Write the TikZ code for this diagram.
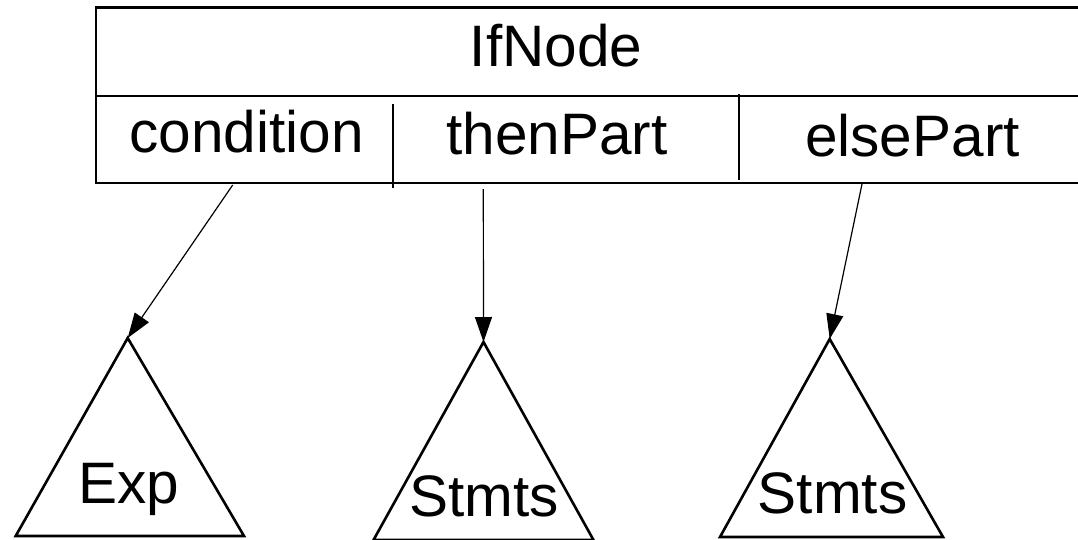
\documentclass[tikz,border=0pt]{standalone}
\usepackage{fontspec}
\setmainfont{Liberation Sans}
\usetikzlibrary{arrows.meta}
\begin{document}
\begin{tikzpicture}[x=1pt,y=-1pt,
  boxline/.style={line width=2.6pt},
  divline/.style={line width=2pt},
  tri/.style={line width=2.6pt, line join=miter},
  conn/.style={line width=1.2pt, -{Triangle[length=25pt,width=17pt]}},
  lbl/.style={anchor=base, inner sep=0pt, font=\fontsize{58.5}{60}\selectfont}]
\useasboundingbox (0,0) rectangle (1078,539);
\clip (0,0) rectangle (1078,539);
% record box
\draw[boxline] (1100,7.5) -- (96,7.5) -- (96,183) -- (1100,183);
\draw[boxline] (96,96) -- (1100,96);
\draw[divline] (392.7,104) -- (392.7,188);
\draw[divline] (739.3,94) -- (739.3,180);
\node[lbl] (ifnode) at (556,66) {IfNode};
\node[lbl] (cond) at (246.7,152) {condition};
\node[lbl] (then) at (557,154) {thenPart};
\node[lbl] (else) at (912.5,156.7) {elsePart};
% connector start points
\coordinate (condOut) at (232.7,185);
\coordinate (thenOut) at (483.3,189);
\coordinate (elseOut) at (862,184);
% triangles
\coordinate (expTop) at (127.7,338);
\coordinate (st1Top) at (483.5,342);
\coordinate (st2Top) at (829.7,339);
\draw[tri] (expTop) -- (15.7,536) -- (244,536) -- cycle;
\draw[tri] (st1Top) -- (373.5,540) -- (593.5,540) -- cycle;
\draw[tri] (st2Top) -- (720,537) -- (943,537) -- cycle;
\node[lbl] (exp) at (129,503) {Exp};
\node[lbl] (st1) at (484,516.7) {Stmts};
\node[lbl] (st2) at (832.7,513) {Stmts};
% connectors
\draw[conn] (condOut) -- (expTop);
\draw[conn] (thenOut) -- (st1Top);
\draw[conn] (elseOut) -- (st2Top);
\end{tikzpicture}
\end{document}
